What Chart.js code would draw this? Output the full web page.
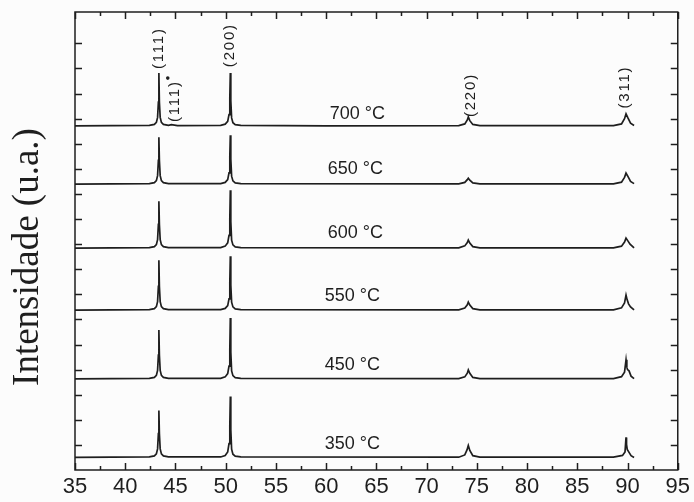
<!DOCTYPE html>
<html lang="pt">
<head>
<meta charset="utf-8">
<script src="https://cdn.jsdelivr.net/npm/chart.js@4.4.1/dist/chart.umd.min.js"></script>
<style>
  body { margin: 0; background: #fcfcfc; }
  canvas { display: block; }
</style>
</head>
<body>
<canvas id="graficoDRX" width="694" height="502"></canvas>
<script>
const dados700 = [[35.0, 13.71], [42.4, 13.73], [42.9, 13.77], [43.1, 13.85], [43.22, 14.05], [43.3, 14.66], [43.35, 15.82], [43.4, 14.66], [43.48, 14.05], [43.6, 13.85], [43.8, 13.77], [44.3, 13.73], [44.6, 13.76], [45.2, 13.72], [49.5, 13.73], [49.95, 13.78], [50.2, 13.89], [50.33, 14.16], [50.41, 14.81], [50.46, 15.82], [50.51, 14.71], [50.59, 14.03], [50.72, 13.84], [50.95, 13.76], [51.5, 13.73], [60.0, 13.71], [73.2, 13.72], [73.8, 13.79], [74.05, 13.95], [74.15, 14.07], [74.3, 13.92], [74.6, 13.77], [75.3, 13.72], [88.6, 13.72], [89.4, 13.79], [89.7, 14.0], [89.85, 14.19], [90.05, 14.02], [90.3, 13.82], [90.65, 13.73]];
const dados650 = [[35.0, 11.39], [42.4, 11.41], [42.9, 11.45], [43.1, 11.53], [43.22, 11.73], [43.3, 12.34], [43.35, 13.26], [43.4, 12.34], [43.48, 11.73], [43.6, 11.53], [43.8, 11.45], [44.3, 11.41], [49.5, 11.41], [49.95, 11.46], [50.2, 11.57], [50.33, 11.84], [50.41, 12.49], [50.46, 13.34], [50.51, 12.39], [50.59, 11.71], [50.72, 11.52], [50.95, 11.44], [51.5, 11.41], [73.2, 11.4], [73.8, 11.46], [74.05, 11.57], [74.15, 11.63], [74.3, 11.55], [74.6, 11.44], [75.3, 11.4], [88.6, 11.4], [89.4, 11.47], [89.7, 11.66], [89.85, 11.83], [90.05, 11.69], [90.3, 11.5], [90.65, 11.41]];
const dados600 = [[35.0, 8.84], [42.4, 8.86], [42.9, 8.9], [43.1, 8.98], [43.22, 9.18], [43.3, 9.79], [43.35, 10.71], [43.4, 9.79], [43.48, 9.18], [43.6, 8.98], [43.8, 8.9], [44.3, 8.86], [49.5, 8.86], [49.95, 8.92], [50.2, 9.05], [50.33, 9.35], [50.41, 10.0], [50.46, 11.15], [50.51, 9.9], [50.59, 9.16], [50.72, 8.97], [50.95, 8.89], [51.5, 8.86], [73.2, 8.85], [73.8, 8.93], [74.05, 9.06], [74.15, 9.16], [74.3, 9.04], [74.6, 8.9], [75.3, 8.85], [88.6, 8.85], [89.4, 8.92], [89.7, 9.08], [89.85, 9.24], [90.05, 9.12], [90.25, 9.0], [90.65, 8.85]];
const dados550 = [[35.0, 6.37], [42.4, 6.39], [42.9, 6.43], [43.1, 6.51], [43.22, 6.71], [43.3, 7.32], [43.35, 8.36], [43.4, 7.32], [43.48, 6.71], [43.6, 6.51], [43.8, 6.43], [44.3, 6.39], [49.5, 6.39], [49.95, 6.44], [50.2, 6.55], [50.33, 6.82], [50.41, 7.47], [50.46, 8.52], [50.51, 7.37], [50.59, 6.69], [50.72, 6.5], [50.95, 6.42], [51.5, 6.39], [73.2, 6.38], [73.8, 6.45], [74.05, 6.58], [74.15, 6.69], [74.3, 6.57], [74.6, 6.43], [75.3, 6.38], [88.6, 6.38], [89.4, 6.46], [89.7, 6.66], [89.85, 6.97], [89.95, 6.8], [90.1, 6.62], [90.3, 6.5], [90.65, 6.38]];
const dados450 = [[35.0, 3.63], [42.4, 3.65], [42.9, 3.69], [43.1, 3.77], [43.22, 3.97], [43.3, 4.58], [43.35, 5.58], [43.4, 4.58], [43.48, 3.97], [43.6, 3.77], [43.8, 3.69], [44.3, 3.65], [49.5, 3.65], [49.95, 3.71], [50.2, 3.84], [50.33, 4.14], [50.41, 4.8], [50.46, 6.06], [50.51, 4.7], [50.59, 3.95], [50.72, 3.76], [50.95, 3.68], [51.5, 3.65], [73.2, 3.64], [73.8, 3.71], [74.05, 3.86], [74.15, 3.99], [74.3, 3.85], [74.6, 3.69], [75.3, 3.64], [88.6, 3.64], [89.4, 3.72], [89.7, 3.9], [89.85, 4.39], [89.93, 4.1], [90.0, 4.0], [90.15, 3.95], [90.35, 3.74], [90.65, 3.64]];
const dados350 = [[35.0, 0.50], [42.4, 0.52], [42.9, 0.56], [43.1, 0.64], [43.22, 0.84], [43.3, 1.45], [43.35, 2.37], [43.4, 1.45], [43.48, 0.84], [43.6, 0.64], [43.8, 0.56], [44.3, 0.52], [49.5, 0.52], [49.95, 0.58], [50.2, 0.72], [50.33, 1.05], [50.41, 1.75], [50.46, 2.93], [50.51, 1.6], [50.59, 0.83], [50.72, 0.63], [50.95, 0.55], [51.5, 0.52], [73.2, 0.51], [73.8, 0.6], [74.02, 0.8], [74.15, 0.98], [74.3, 0.78], [74.6, 0.57], [75.3, 0.51], [88.6, 0.51], [89.5, 0.58], [89.75, 0.72], [89.85, 1.30], [89.9, 1.02], [89.97, 0.82], [90.15, 0.7], [90.35, 0.57], [90.65, 0.5]];

const series = [dados700, dados650, dados600, dados550, dados450, dados350];
const temperaturas = ['700 °C', '650 °C', '600 °C', '550 °C', '450 °C', '350 °C'];
const ticksX = [35, 40, 45, 50, 55, 60, 65, 70, 75, 80, 85, 90, 95];

// onde escrever cada rótulo (coordenadas do gráfico)
const posTemperaturas = [[63.1, 14.0], [62.9, 11.81], [62.9, 9.26], [62.6, 6.75], [62.6, 4.0], [62.6, 0.82]];
const picos = ['(111)', '(111)', '(200)', '(220)', '(311)'];
const posPicos = [[43.34, 16.81], [44.93, 14.7], [50.44, 16.93], [74.42, 14.94], [89.72, 15.26]];

const cor = '#1e1e1e';

const moldura = {
  id: 'moldura',
  afterDraw(chart) {
    const { ctx, chartArea: a, scales: { x, y } } = chart;
    ctx.save();
    ctx.strokeStyle = cor;
    ctx.lineWidth = 1.5;
    ctx.strokeRect(a.left, a.top, a.right - a.left, a.bottom - a.top);

    ctx.beginPath();
    x.ticks.forEach(t => {
      const px = Math.round(x.getPixelForValue(t.value)) + 0.5;
      const len = t.value % 5 === 0 ? 7 : 4;
      ctx.moveTo(px, a.bottom); ctx.lineTo(px, a.bottom - len);
      ctx.moveTo(px, a.top); ctx.lineTo(px, a.top + len);
    });
    y.ticks.forEach(t => {
      if (!Number.isInteger(t.value) || t.value === 0) return;
      const py = Math.round(y.getPixelForValue(t.value)) + 0.5;
      ctx.moveTo(a.left, py); ctx.lineTo(a.left + 7, py);
      ctx.moveTo(a.right, py); ctx.lineTo(a.right - 7, py);
    });
    ctx.stroke();

    ctx.fillStyle = cor;
    // temperaturas
    ctx.font = '18px "Liberation Sans", Arial, sans-serif';
    ctx.textAlign = 'center';
    ctx.textBaseline = 'alphabetic';
    temperaturas.forEach((txt, i) => {
      ctx.fillText(txt, x.getPixelForValue(posTemperaturas[i][0]), y.getPixelForValue(posTemperaturas[i][1]));
    });

    // índices dos picos (texto vertical)
    ctx.font = '15px "Liberation Sans", Arial, sans-serif';
    ctx.letterSpacing = '1.8px';
    ctx.textBaseline = 'middle';
    picos.forEach((txt, i) => {
      ctx.save();
      ctx.translate(x.getPixelForValue(posPicos[i][0]), y.getPixelForValue(posPicos[i][1]));
      ctx.rotate(-Math.PI / 2);
      ctx.fillText(txt, 0, 0);
      if (i === 1) {
        // marca do (111) da outra fase
        ctx.beginPath();
        ctx.arc(23, -7, 1.8, 0, Math.PI * 2);
        ctx.fill();
      }
      ctx.restore();
    });
    ctx.letterSpacing = '0px';

    // título do eixo y
    ctx.save();
    ctx.translate(38, 257);
    ctx.rotate(-Math.PI / 2);
    ctx.font = '37px "Liberation Serif", "Times New Roman", serif';
    ctx.textAlign = 'center';
    ctx.textBaseline = 'alphabetic';
    ctx.fillText('Intensidade (u.a.)', 0, 0);
    ctx.restore();

    ctx.restore();
  }
};

new Chart(document.getElementById('graficoDRX'), {
  type: 'scatter',
  data: {
    datasets: series.map((d, i) => ({
      label: temperaturas[i],
      data: d,
      showLine: true,
      borderColor: cor,
      borderWidth: 1.7,
      pointRadius: 0,
      tension: 0
    }))
  },
  options: {
    responsive: false,
    animation: false,
    layout: { padding: { top: 12, right: 15, bottom: 0, left: 0 } },
    plugins: { legend: { display: false }, tooltip: { enabled: false } },
    scales: {
      x: {
        type: 'linear',
        min: 35,
        max: 95,
        grid: { display: false, drawTicks: false },
        border: { display: false },
        ticks: {
          stepSize: 2.5,
          autoSkip: false,
          maxRotation: 0,
          padding: 4,
          color: cor,
          font: { family: '"Liberation Sans", Arial, sans-serif', size: 22 },
          callback: v => ticksX.includes(v) ? String(v) : ''
        },
        afterFit: s => { s.height = 32; }
      },
      y: {
        min: 0,
        max: 18.25,
        grid: { display: false, drawTicks: false },
        border: { display: false },
        ticks: { stepSize: 1, display: false },
        afterFit: s => { s.width = 75; }
      }
    }
  },
  plugins: [moldura]
});
</script>
</body>
</html>
